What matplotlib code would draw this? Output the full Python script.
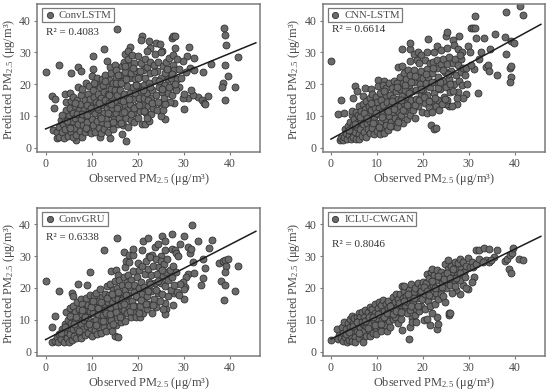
import matplotlib
matplotlib.use("Agg")
import matplotlib.pyplot as plt

plt.rcParams["font.family"] = ["Liberation Serif", "DejaVu Serif"]
plt.rcParams["mathtext.fontset"] = "custom"
plt.rcParams["mathtext.rm"] = "Liberation Serif"
plt.rcParams["mathtext.default"] = "rm"

titles = ["ConvLSTM", "CNN-LSTM", "ConvGRU", "ICLU-CWGAN"]
r2_labels = ["R² = 0.4083", "R² = 0.6614", "R² = 0.6338", "R² = 0.8046"]
fit_x = [0, 45.7]
fit_lstm = [5.9, 33.0]
fit_cnn = [2.7, 38.8]
fit_gru = [3.8, 37.8]
fit_iclu = [4.0, 36.2]

lstm_points = [
(0,23.7),(2.9,25.9),(5.5,23.4),(7,25.3),(7.8,24.2),(10.4,29),(12.7,31.1),(15.5,37.2),(13.3,27.4),(17.3,29.6),(18.3,31.8),(18,30.5),
(21,35),(20.8,33.8),(22.4,33.5),(24,32.9),(24.9,32.5),(22.6,31.5),(22,30.5),(25.3,30.3),(27.4,34.5),(27.7,35),(28.2,35.2),(28.1,31.5),
(31.2,31.6),(38.7,37.8),(39,35.5),(39.3,32.4),(30.8,28.9),(32.3,28.1),(29.8,27.2),(31.3,25.2),(32.2,24.3),(34.2,23.7),(36,26.4),(38.9,26.1),
(39.7,22.7),(41.8,28.6),(38.6,20.4),(38.3,19),(41.1,19),(39,15),(35.3,16.4),(33.2,15.8),(34,15),(34.4,14.2),(34.7,13.7),(30.1,12.1),
(26,9),(25,10),(31,15.6),(32,16.6),(31.5,18.2),(29.8,15.6),(29,19),(27.5,19.5),(28,14),(30,17),(17.5,2),(16.5,4.4),(13.9,3.2),(11.8,3.4),
(6.6,2.3),(2.4,3),(1.5,16.4),(2,15.2),(1.9,12.4),(1.6,5.5),(2.5,5),(3,3.5),(3,6.5),(3.3,8.7),(3.6,4.8),(3.8,7.5),(4,3),(4.2,9),(4.3,5.8),
(4.4,12),(4.5,14.5),(4.3,16.9),(4.8,3.8),(5,7),(5.1,10),(5.2,17.3),(5.3,12.5),(5.5,5),(5.6,14.8),(5.7,8.5),(5.9,3.3),(6,16),(6,11),
(6.2,6.2),(6.4,13),(6.5,9.5),(6.7,4),(6.8,15),(7,7.5),(7,19),(7.2,11.8),(7.4,5.2),(7.5,13.8),(7.6,9),(7.8,16.5),(8,3.5),(8,18.5),(8.2,7),
(8.3,12),(8.5,15),(8.6,4.8),(8.7,10),(8.8,20.5),(9,8),(9,13.5),(9.2,6),(9.3,17),(9.4,19.5),(9.5,11.5),(9.7,15.2),(9.8,4.5),(10,9),
(10,22.5),(10.2,13),(10.3,7),(10.4,18),(10.4,24.8),(10.6,16),(10.7,11),(10.8,5),(11,20),(11,14.5),(11.2,8.5),(11.2,22),(11.4,17),
(11.5,12.2),(11.6,6.2),(11.8,10),(11.9,19),(12,15.5),(12,4.7),(12.2,21.5),(12.3,8),(12.4,13.5),(12.6,17.5),(12.7,11),(12.8,6),(13,23),
(13,15),(13.1,19.8),(13.2,9),(13.4,12.5),(13.5,17),(13.6,5),(13.7,21.3),(13.8,14),(14,25.5),(14,7.5),(14.1,10.5),(14.2,18.5),(14.3,23.5),
(14.4,16),(14.5,12.5),(14.6,20.5),(14.7,6),(14.9,9),(15,14.5),(15,26),(15.1,18),(15.2,22.3),(15.3,11),(15.4,24.5),(15.5,16.5),(15.7,7.3),
(15.8,20),(16,13),(16,9.5),(16.1,23),(16.2,18),(16.4,15),(16.5,25.8),(16.6,11),(16.8,21),(16.9,7.2),(17,17),(17,27),(17.2,13.5),
(17.3,23.8),(17.4,9.5),(17.6,19.5),(17.7,15.5),(17.8,11.8),(17.9,6.5),(18,28),(18.1,25.8),(18.2,21.8),(18.3,17.2),(18.4,13.8),(18.5,8.8),
(18.6,23.5),(18.7,29.3),(18.9,19.2),(19,15.2),(19,11),(19.2,26.7),(19.3,8),(19.4,21.5),(19.5,17.3),(19.7,24),(19.8,13.2),(20,28.8),
(20,19.5),(20.1,9.3),(20.2,15.5),(20.4,22.5),(20.5,11.7),(20.7,17.7),(20.8,26.8),(20.9,7.5),(21,13.5),(21.2,24.5),(21.3,19.8),(21.4,15.5),
(21.5,7.4),(21.6,28),(21.7,22),(21.8,10.8),(22,17.2),(22.1,25.5),(22.3,13),(22.4,8.3),(22.5,20.5),(22.7,27),(22.8,23.5),(22.9,15.5),
(23,10.5),(23.2,18.2),(23.4,12.5),(23.5,26),(23.7,29.5),(23.8,21.3),(24,16.5),(24.2,24.2),(24.3,11.8),(24.5,27),(24.6,19),(24.8,14),
(25,21.8),(25.1,30),(25.2,17.5),(25.5,25.8),(25.6,12),(25.8,15.5),(25.9,23.5),(26,19.7),(26.2,27),(26.5,21.5),(26.6,17.3),(26.8,28.2),
(27,24.8),(27.1,14.5),(27.3,21.8),(27.5,16.7),(27.6,26),(27.8,29.2),(28,24.5),(28.3,18),(28.5,21.5),(28.6,28),(29,24.8),(29.5,22),(30.5,23.7),
(3.5,10.3),(4.7,8.3),(5.4,6.1),(6.3,14.2),(6.9,10.5),(7.9,10.6),(8.8,6.3),(9.1,10.3),(9.9,12.5),(10.5,20.2),(11.1,12.8),(11.7,14.2),(12.1,9.2),
(12.5,19.8),(13.3,7.4),(13.6,10.8),(14.2,13.6),(14.6,8.2),(15.2,20.2),(15.6,12.6),(16.3,7.9),(16.4,20.2),(16.9,14.7),(17.1,11.2),(17.5,21.5),
(18.2,15.4),(18.6,10.5),(19.2,12.6),(19.6,19.6),(20.3,13.4),(20.6,24),(21.1,18),(21.4,11.6),(22.2,15),(22.6,19),(23.1,14),(23.6,23.7),(24.4,14.5),
(24.7,21),(25.4,18.5),(25.9,13.7),(26.4,24.7),(26.9,19),(27.4,23.2),(28.2,20),(22.1,9.5),(20,21.8),(17.3,25.7),(15.7,23),(13.8,16.6),(12.9,21),(19,25)
]

cnn_points = [
(0,27.4),(1.6,10.7),(2.2,15),(2.9,10.8),(4.8,15.5),(5.2,19.5),(5.7,17.7),(6.9,16.2),(7.5,18.7),(8.7,18.6),(10.2,21.2),(11.5,21),(14.5,25.5),
(15.5,25.6),(15.4,30.9),(17.1,31.2),(17.3,32.8),(17.1,27.4),(18,29.5),(19,30),(19.5,29.3),(20.8,30),(21.2,34.2),(22.5,30),(23.1,32),(24,30.8),
(25.1,35),(25.3,36.3),(25.2,31.5),(26.5,33.9),(26.8,32.2),(27.7,31),(27.9,35),(28.5,30),(28.3,28),(29.9,32),(30.2,30),(30.4,37.6),(31,37.6),
(31.3,37.7),(31.3,41.5),(31.6,34.5),(32.2,27.8),(32.6,30),(33.3,34.5),(34.6,31),(33.8,25.5),(34.2,26),(34.4,24),(35.7,35.7),(36.2,22.9),
(37.9,34.8),(38.1,29.6),(38,42.7),(41.2,44.7),(41.8,41.7),(39.3,33.5),(39.8,32.8),(38.9,25),(39.2,25.7),(39.1,22.2),(38.9,20.7),(31.2,24.7),
(32,17.2),(29.5,17),(28.8,15.5),(27.7,17.5),(27.5,13.6),(25.8,13),(25,13.8),(21.8,7),(22.4,6),(22.8,6.2),(1.9,2.4),(2.2,3.2),(2.6,2.3),
(2.9,3.5),(3,5.9),(3.3,4.6),(3.5,2.8),(3.7,6.7),(3.9,3.9),(4.2,8),(4.3,2.6),(4.4,5.4),(4.6,10.2),(4.6,11.6),(4.8,7),(4.9,3.4),(5.1,9),
(5.2,4.8),(5.4,11.3),(5.5,2.8),(5.6,6.6),(5.8,8.2),(5.9,10.3),(6,4.2),(6.1,13),(6.2,2.7),(6.4,6),(6.5,8.8),(6.6,11.5),(6.8,3.7),(6.9,13.8),
(7,7.4),(7.2,5),(7.3,9.8),(7.4,12.2),(7.6,14.8),(7.7,3.4),(7.8,7.8),(8,6),(8.1,10.6),(8.2,13),(8.4,15.5),(8.5,4.5),(8.6,8.5),(8.8,11.8),
(8.9,17),(9,6.3),(9.1,14),(9.3,9.8),(9.4,4.2),(9.5,12.4),(9.7,16),(9.8,7.8),(10,14.5),(10,5.3),(10.2,19.5),(10.3,10.5),(10.4,12.5),
(10.6,4.2),(10.7,17.2),(10.8,8),(11,15),(11,6.2),(11.2,11.2),(11.3,19.8),(11.4,13.3),(11.6,4.6),(11.7,9),(11.9,16.7),(12,7.2),(12,18.8),
(12.2,12),(12.3,14.5),(12.4,5.5),(12.6,10),(12.7,20.5),(12.8,16.5),(13,8.2),(13.1,13.2),(13.2,18.7),(13.4,11.2),(13.6,6.9),(13.6,15.5),
(13.7,21),(13.9,9.3),(14,13.5),(14.1,17.7),(14.3,6.6),(14.4,20.5),(14.5,11.5),(14.7,15.2),(14.8,8.7),(15,22.3),(15,18.5),(15.1,13),
(15.3,10.3),(15.4,16.4),(15.6,20.5),(15.7,7.8),(15.8,23.4),(16,14),(16.1,11.4),(16.2,18.2),(16.4,21.5),(16.5,9),(16.7,16),(16.8,24.3),
(16.9,12.7),(17,19.7),(17.2,10.2),(17.3,22.8),(17.5,15),(17.7,17.8),(17.8,12),(18,20.8),(18.1,24.5),(18.3,9.5),(18.5,15.3),(18.6,18.3),
(18.7,27.5),(18.9,22.3),(19,13),(19.2,26.5),(19.3,20),(19.5,16.5),(19.7,24),(19.8,11.3),(20,18.2),(20.1,22),(20.4,14),(20.5,27.7),
(20.6,20.2),(20.8,10.8),(20.9,24.8),(21,16.5),(21.2,22.3),(21.3,12.7),(21.5,19),(21.6,26.5),(21.8,14.8),(22,23.5),(22,11.2),(22.2,27),
(22.4,17.2),(22.6,20.7),(22.8,13),(23,25),(23,27.7),(23.2,15),(23.4,22.3),(23.6,11.8),(23.8,18.5),(24,26.2),(24.1,13.6),(24.3,21),
(24.5,28),(24.6,16),(24.8,23.7),(25,19),(25.2,26.2),(25.3,15),(25.6,21.5),(25.8,28.5),(26,17.5),(26.2,24),(26.4,13.2),(26.5,26.5),
(26.7,20),(27,28),(27.2,23),(27.4,15.5),(27.6,26),(27.9,21),(28.1,29.2),(28.3,23.8),(28.6,19.8),(28.8,25),(29.1,23),(29.4,25),(29.7,20),(30.4,26),
(4,5.5),(5.3,7.5),(6.3,9.6),(7.1,11),(7.9,9.2),(8.7,14),(9.2,7.9),(9.9,11),(10.5,6.4),(11.2,9.6),(11.6,17.9),(12.5,11.6),(12.9,6.7),(13.3,14.6),
(13.8,12.2),(14.3,19),(14.6,8.1),(15.2,15),(15.7,12),(16.2,19.8),(16.6,13.5),(17,17.3),(17.4,20.8),(18.2,13.5),(18.4,22.7),(19.1,15),(19.6,18.5),
(20.2,16),(20.7,23.2),(21.4,14.6),(21.9,20.7),(22.3,25),(22.7,15.5),(23.3,18.8),(23.7,20.7),(24.4,24.5),(24.9,15.3),(25.4,23.2),(26,20),(26.6,17.8)
]

gru_points = [
(0,22.2),(1.5,7.7),(2.1,11.2),(2.9,19.2),(5.7,18.4),(5.9,17.5),(7,21.4),(8.9,20.8),(9.6,25),(12.6,31.8),(14.3,25.4),(15.4,25.7),(15.5,35.6),
(15.8,24.2),(17,31.2),(17.2,26.5),(17.5,28.5),(18.2,28),(18.1,30.3),(19,30.4),(19.1,32.2),(20,27.8),(21,32),(21.1,34.9),(22.2,35.6),(22.5,30),
(23.2,30.4),(23.7,32.9),(24.5,33.8),(25.2,36.4),(26,34.8),(26,32),(25.1,30),(27.5,37),(27.5,32.2),(28.2,32),(28.3,31),(28.7,30),(29.2,33.7),
(30.1,36.3),(30.9,33),(31.4,31),(31.6,32.2),(31.9,39.8),(32,28),(33.2,34.6),(34.2,29),(35.6,32.4),(36.2,35),(37.7,27.9),(38.1,22.3),(38.6,28.5),
(39,28.7),(39.7,29.1),(39.2,26.8),(39,25),(39,20.8),(38.8,16.2),(41.1,19),(41.8,27),(34.3,23.2),(34.6,26.2),(33.7,21),(31,24.5),(32.2,24.7),
(30.5,23.3),(29.9,22),(30.4,20.4),(30,19.7),(29.2,21.2),(30,16.5),(28,18.5),(27.8,14.6),(26.2,13.5),(25.9,11.7),(25.9,15.2),(25.6,13.5),
(15.1,4.9),(15.7,4.6),(1.5,2.9),(2.1,3.5),(2.5,4.5),(2.8,3),(3,5.5),(3.4,4),(3.6,7),(3.9,5.4),(4.1,3.2),(4.2,8.6),(4.4,6.3),(4.5,12.4),
(4.7,4.2),(4.8,10),(5,7.5),(5.1,3.2),(5.3,13.7),(5.4,5.4),(5.5,9),(5.7,11.5),(5.8,3.7),(6,7.2),(6,14.5),(6.2,5),(6.3,12.6),(6.5,9.6),
(6.7,4.2),(6.8,15.7),(6.9,7.4),(7.1,11),(7.3,13.5),(7.4,5.4),(7.6,8.8),(7.7,16.5),(7.8,4.3),(8,11.8),(8,15),(8.2,7),(8.4,9.8),(8.5,13.4),
(8.6,5.2),(8.8,16.8),(9,8),(9,11.3),(9.2,14.8),(9.3,5.8),(9.5,10),(9.6,17.8),(9.7,12.8),(9.9,7.3),(10,15.2),(10.1,5),(10.3,9.3),(10.4,12),
(10.6,17.5),(10.7,6.8),(10.8,14),(11,18.3),(11,9.8),(11.2,5.4),(11.4,11.8),(11.5,16),(11.6,7.8),(11.8,13.8),(11.9,19.7),(12,9.7),(12.1,5.8),
(12.3,17.2),(12.4,11.5),(12.6,15),(12.7,7.8),(12.9,13),(13,18),(13.1,9.5),(13.2,6.4),(13.4,20.5),(13.5,15.5),(13.6,11.5),(13.8,17.8),
(13.9,8),(14,13.7),(14.1,21.2),(14.3,10),(14.4,15.8),(14.5,6.5),(14.7,19.4),(14.8,12.3),(15,17),(15,22.3),(15.2,8.3),(15.3,14.4),
(15.5,20),(15.6,10.8),(15.7,16.6),(15.9,12.6),(16,22.5),(16.1,18.5),(16.3,9.3),(16.4,14.7),(16.6,21),(16.7,11.4),(16.8,17),(17,23.5),
(17,13),(17.2,19.5),(17.3,9.6),(17.5,15.7),(17.6,22),(17.8,12),(18,17.8),(18,24),(18.2,14),(18.3,20.4),(18.5,10.8),(18.6,22.5),(18.8,16),
(19,25.2),(19,12.5),(19.2,18.8),(19.3,21),(19.5,14.5),(19.7,11),(19.8,23.5),(20,17.2),(20.2,25.5),(20.3,20),(20.5,10.8),(20.6,14.4),
(20.8,22),(21,18),(21,27),(21.2,12),(21.4,15.8),(21.5,24.5),(21.7,20),(21.9,28.5),(22,13.5),(22,17.5),(22.2,26),(22.4,22),(22.5,15),
(22.7,29.8),(22.9,19),(23,24),(23.2,12.3),(23.4,27),(23.5,16.5),(23.7,21.5),(24,14),(24,29),(24.2,24.5),(24.4,18.5),(24.6,26.5),(24.8,16),
(25,21.5),(25.1,28.5),(25.3,18),(25.5,23.7),(25.7,27.5),(25.9,20.5),(26.2,25),(26.4,29),(26.5,17.5),(26.7,22.5),(27,25.5),(27.3,19.5),
(27.5,23.5),(27.7,27),(28,21),(28.3,25),(28.5,18.7),(29,17.7),
(3.3,6),(4.3,7.6),(5.2,11.2),(6.1,8.6),(6.6,11),(7.2,6.4),(7.9,13.2),(8.5,11),(9.4,8.8),(9.8,14),(10.4,15.8),(10.9,8.4),(11.3,13.8),(12,15.6),
(12.5,9.6),(13.1,12),(13.4,16.8),(14,11.8),(14.4,18.2),(14.6,8.8),(15.3,12.4),(15.8,18.7),(16.2,11),(16.5,16.3),(17,15.1),(17.4,17.8),(17.9,20.8),
(18.4,12.8),(19,14.2),(19.6,17.4),(20.3,12.2),(20.7,16.3),(21.3,20.4),(21.8,14.9),(22.3,18.9),(22.8,21.4),(23.3,14.6),(23.9,19.5),(24.5,22.1),(25.2,25.7)
]

iclu_points = [
(0,3.6),(17,4),(15.4,6.8),(17.3,7.7),(21.5,8.4),(23,7.2),(23.2,8.7),(23.1,11),(25.6,11.5),(25.7,12.3),(26,12.3),(24.8,15.7),(31.2,23.6),
(38.8,26),(39.3,24.7),(41,29),(41.8,28.8),(37.8,28.4),(38.3,29),(38.9,30.5),(39.4,30.9),(39.7,32.5),(31.5,31.9),(32.3,31.9),(33.3,32.5),
(34.3,32.1),(36.2,31.9),(35.5,29.8),(33.8,28.8),(34.5,28),(34.8,28.9),(29.9,19.7),(28,18.2),(27.2,19.5),(28.7,20.8),(29.3,20),(30.7,21.8),
(1.4,7),(1.7,5.2),(1.6,3.9),(2.1,4.2),(2.3,7.8),(2.6,6),(2.7,3.4),(2.9,9.2),(3,4.7),(3.3,7),(3.4,3.2),(3.6,9),(3.7,5.4),(3.9,3.8),(4.1,10.2),
(4.2,7.8),(4.3,5),(4.5,11.2),(4.6,3.3),(4.7,9),(4.9,6.5),(5.1,10.5),(5.2,4.5),(5.3,3),(5.4,8),(5.6,11),(5.7,6.5),(5.9,9.6),(6,12.2),(6.1,4.4),
(6.3,7.8),(6.4,10.8),(6.6,5.6),(6.8,12.4),(6.9,8.8),(7,3),(7.1,6.5),(7.3,11),(7.5,13),(7.6,8),(7.7,5),(7.9,10),(8.1,12.4),(8.2,6.8),
(8.4,14),(8.5,8.7),(8.6,4.8),(8.8,11.5),(9,13.5),(9.1,6),(9.3,9.5),(9.5,15),(9.6,12),(9.7,7.5),(9.9,5.7),(10,10.5),(10.2,13.6),(10.4,15.5),
(10.5,8),(10.7,12),(10.9,6.6),(11,14.7),(11.2,10),(11.4,16.3),(11.5,12.7),(11.7,8.4),(11.9,15),(12,11),(12.2,6.4),(12.4,13.7),(12.5,16),
(12.7,9.5),(12.9,7.8),(13,12),(13.2,14.8),(13.4,10.3),(13.6,17.2),(13.7,13),(13.9,15.5),(14,11),(14.2,18),(14.4,14),(14.5,9),(14.7,16.5),
(14.9,12.4),(15,18.2),(15.2,10.3),(15.3,14.8),(15.4,20.6),(15.6,16.8),(15.8,12.8),(16,19),(16,20.5),(16.2,14.7),(16.4,17.4),(16.6,12),
(16.8,15.5),(17,19.5),(17.2,13.2),(17.3,17),(17.5,21.3),(17.6,10.5),(17.7,9.3),(17.9,15.3),(18,18.8),(18.2,11.5),(18.4,20),(18.5,13.5),
(18.6,9.3),(18.8,16.7),(19,21.5),(19.2,12.8),(19.3,18.7),(19.5,14.5),(19.7,20.4),(19.9,16.5),(20,22),(20.2,10),(20.4,18),(20.5,13.5),(20.7,21.5),
(20.9,24.5),(21,10.3),(21.1,16),(21.3,19.8),(21.4,23),(21.6,14.3),(21.8,25),(21.9,17.5),(22,26),(22.1,12),(22.3,21),(22.5,24),(22.7,15),
(22.8,18.5),(23,22.5),(23.1,25.5),(23.3,16.5),(23.5,20),(23.7,23.5),(23.9,18),(24,25),(24.2,21.5),(24.4,17.5),(24.7,24),(24.8,27.5),(25,20),
(25.2,22.5),(25.4,26),(25.5,28.8),(25.7,24),(25.9,21),(26.1,27),(26.3,18.5),(26.5,25),(26.7,22.5),(26.9,28),(27,20.5),(27.2,26),(27.4,24),
(27.7,27.7),(28,29),(28.1,22.5),(28.3,26),(28.7,28),(29,25),(29.4,27),(29.9,29.3),(30.3,26.7),(30.8,28),(31,26.5),(31.6,27.5),(32.3,29),(33,28),
(3.2,5.6),(4,6.2),(4.9,8.2),(5.6,9.2),(6.2,6),(6.7,9.4),(7.4,9.5),(8,7.4),(8.3,11),(9.2,10.9),(9.6,8.4),(10.3,11.8),(11,8.6),(11.6,11),(12.3,12.2),
(12.8,14.3),(13.5,11.7),(14.2,12.7),(14.8,15.2),(15.3,12.4),(16,16),(16.7,18.2),(17.4,14.4),(18.1,17),(18.9,14.4),(19.6,19),(20.2,20.2),(20.8,19),
(21.3,17.8),(21.9,22.3),(22.6,20),(23.2,23.8),(24.1,20.2),(24.6,22.8),(25.3,24.8),(26,23),(26.6,26),(27.3,23),(28.2,24.8),(29.2,23.5)
]

panels = [
    (lstm_points, fit_lstm, [37.3, 4, 222.7, 148], 0.81),
    (cnn_points, fit_cnn, [322.7, 4, 222.3, 148], 0.83),
    (gru_points, fit_gru, [37.3, 207.7, 222.7, 148.3], 0.80),
    (iclu_points, fit_iclu, [322.7, 207.7, 222.3, 148.3], 0.75),
]
label_color = "#4a4a4a"
frame_color = "#7a7a7a"
W, H = 550, 391

fig = plt.figure(figsize=(W / 100, H / 100), dpi=100)
for i, (pts, fit, box, ry) in enumerate(panels):
    l, t, w, h = box
    ax = fig.add_axes([l / W, 1 - (t + h) / H, w / W, h / H])
    xs = [p[0] for p in pts]
    ys = [p[1] for p in pts]
    ax.scatter(xs, ys, s=25, color="#6a6a6a", edgecolor="#333333", linewidth=0.6,
               label=titles[i], zorder=2)
    ax.plot(fit_x, fit, color="#1c1c1c", lw=1.1, zorder=3)
    ax.set_xlim(-1.8, 46.6)
    ax.set_ylim(-1.35, 45.2)
    ax.set_xticks([0, 10, 20, 30, 40])
    ax.set_yticks([0, 10, 20, 30, 40])
    ax.tick_params(colors=label_color, color=frame_color, labelsize=8.5, length=2.5, width=0.8, pad=2)
    for s in ax.spines.values():
        s.set_color(frame_color)
        s.set_linewidth(1.1)
    ax.set_xlabel("Observed PM$_{2.5}$ (μg/m³)", fontsize=8.9, color=label_color, va="center")
    ax.set_ylabel("Predicted PM$_{2.5}$ (μg/m³)", fontsize=8.9, color=label_color, va="center")
    ax.xaxis.set_label_coords(0.5, -0.182)
    ax.yaxis.set_label_coords(-0.127, 0.49)
    leg = ax.legend(loc="upper left", bbox_to_anchor=(0.022, 0.971), borderaxespad=0, fancybox=False,
                    framealpha=1, edgecolor=frame_color, fontsize=7.8, handlelength=1.0, handletextpad=0.35,
                    borderpad=0.2, labelcolor=label_color, markerscale=0.9)
    leg.get_frame().set_linewidth(0.9)
    ax.text(0.04, ry, r2_labels[i], transform=ax.transAxes, fontsize=8, color="#333333", va="center")

fig.savefig("out.png", dpi=100)
